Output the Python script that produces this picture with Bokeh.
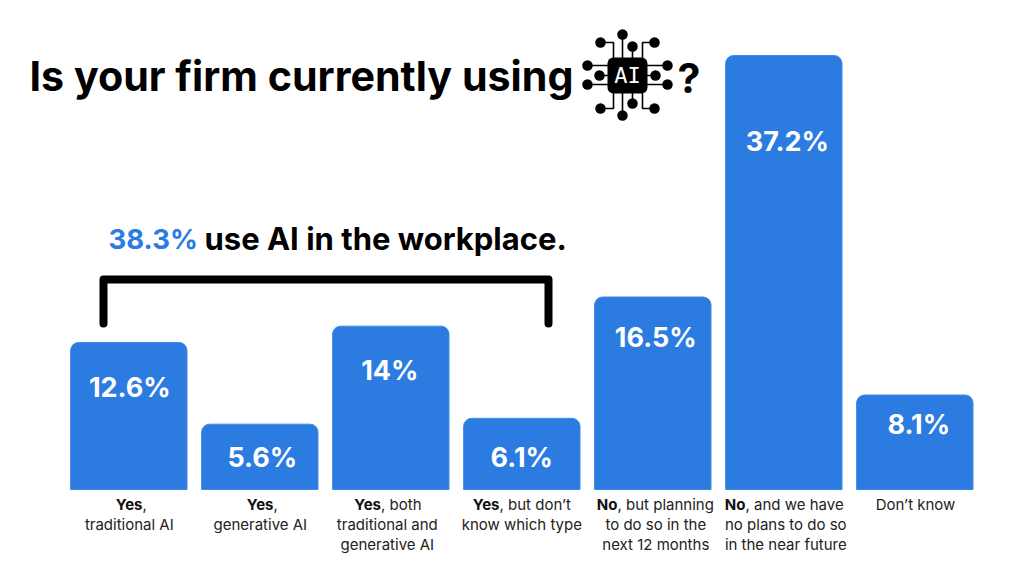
from bokeh.plotting import figure
from bokeh.embed import file_html
from bokeh.resources import INLINE
from bokeh.core.properties import value
from bokeh.models import Range1d, ColumnDataSource

categories = ["Yes, traditional AI", "Yes, generative AI", "Yes, both traditional and generative AI",
              "Yes, but don't know which type", "No, but planning to do so in the next 12 months",
              "No, and we have no plans to do so in the near future", "Don't know"]
values = [12.6, 5.6, 14.0, 6.1, 16.5, 37.2, 8.1]
value_labels = ["12.6%", "5.6%", "14%", "6.1%", "16.5%", "37.2%", "8.1%"]
title_text = "Is your firm currently using"
callout_pct = "38.3%"
callout_rest = "use AI in the workplace."
label_bold = ["Yes", "Yes", "Yes", "Yes", "No", "No", ""]
label_first = [",", ",", ", both", ", but don\u2019t", ", but planning", ", and we have", "Don\u2019t know"]
label_more = [["traditional AI"], ["generative AI"], ["traditional and", "generative AI"], ["know which type"],
              ["to do so in the", "next 12 months"], ["no plans to do so", "in the near future"], []]

# layout (reference pixels)
W, H = 1008, 560
OX, OY = 0, 0
STEP, BAR_W = 131.0, 116.4
FIRST_C, BASE_Y = 128.3, 489.0
PX_PER = 434.0 / 37.2
label_center_y = [387, 457, 370, 457, 337, 141, 424]
label_dx = [1, 2.5, -1, 0, 3, 3.5, 4]
cat_dx = [0.5, 0.5, -3.5, 0, 3, 2, 0]
junction_x = [142, 273, 380.5, 499, 617, 745, 0]
BLUE = "#2C7BE0"
FONT = "Inter"
SMALL = "15px"

def X(px):
    return (px - FIRST_C) / STEP
def Y(py):
    return (BASE_Y - py) / PX_PER

p = figure(width=W, height=H, output_backend="svg", toolbar_location=None,
           x_range=Range1d(X(OX), X(OX + W)), y_range=Range1d(Y(OY + H), Y(OY)),
           min_border=0, outline_line_color=None, background_fill_color="white",
           border_fill_color="white", x_axis_location=None, y_axis_location=None)
p.grid.visible = False

idx = list(range(len(values)))
src = ColumnDataSource(dict(x=idx, top=values, name=categories))
p.vbar(x="x", top="top", bottom=0, width=BAR_W / STEP, source=src, fill_color=BLUE,
       line_color="#3E8AE8", line_width=1, border_radius=(8, 8, 0, 0))

p.text(x=[i + d / STEP for i, d in zip(idx, label_dx)], y=[Y(v) for v in label_center_y],
       text=value_labels, text_color="white",
       text_font=value(FONT), text_font_style="bold", text_font_size="27px",
       text_align="center", text_baseline="middle")

def txt(px, py, s, size, color="black", style="normal", align="left"):
    p.text(x=[X(px)], y=[Y(py)], text=[s], text_color=color, text_font=value(FONT),
           text_font_style=style, text_font_size=size, text_align=align, text_baseline="middle")

txt(29, 75, title_text, "41.2px", style="bold")
txt(677, 77, "?", "41px", style="bold")
txt(108, 238, callout_pct, "27.5px", color=BLUE, style="bold")
txt(204, 238, callout_rest, "31px", style="bold")

# bracket
p.line(x=[X(103), X(103), X(548), X(548)], y=[Y(323), Y(279), Y(279), Y(323)], line_color="black",
       line_width=8, line_cap="round", line_join="round")

# category labels
for i in idx:
    c = FIRST_C + i * STEP + cat_dx[i]
    if label_bold[i]:
        txt(junction_x[i], 504, label_bold[i], SMALL, style="bold", align="right", color="#111111")
        txt(junction_x[i], 504, label_first[i], SMALL, color="#222222")
    else:
        txt(915, 504, label_first[i], SMALL, align="center", color="#222222")
    for j, line in enumerate(label_more[i]):
        txt(c, 524 + 20 * j, line, SMALL, align="center", color="#222222")

# chip icon
nodes = [(622, 34), (632, 46), (600, 42), (654, 42), (587, 65), (587, 84), (599, 75),
         (667, 65), (667, 84), (655, 75), (622, 115), (632, 103), (600, 108), (654, 108)]
wires = [[(622, 34), (622, 60)], [(632, 46), (632, 60)], [(600, 42), (613, 42), (613, 60)],
         [(654, 42), (642, 42), (642, 60)], [(587, 65), (610, 65)], [(587, 84), (610, 84)],
         [(599, 75), (610, 75)], [(667, 65), (645, 65)], [(667, 84), (645, 84)], [(655, 75), (645, 75)],
         [(622, 115), (622, 90)], [(632, 103), (632, 90)], [(600, 108), (613, 108), (613, 90)],
         [(654, 108), (642, 108), (642, 90)]]
p.multi_line(xs=[[X(a) for a, _ in w] for w in wires], ys=[[Y(b) for _, b in w] for w in wires],
             line_color="black", line_width=1.6)
p.scatter(x=[X(a) for a, _ in nodes], y=[Y(b) for _, b in nodes], size=10.5, marker="circle",
          fill_color="black", line_color=None)
p.quad(left=[X(607)], right=[X(647)], top=[Y(57)], bottom=[Y(93)], fill_color="black", line_color=None,
       border_radius=6)
p.text(x=[X(627)], y=[Y(75)], text=["AI"], text_color="white", text_font=value("DejaVu Sans Mono"),
       text_font_size="22px", text_align="center", text_baseline="middle")

open("out.html", "w").write(file_html(p, INLINE))
